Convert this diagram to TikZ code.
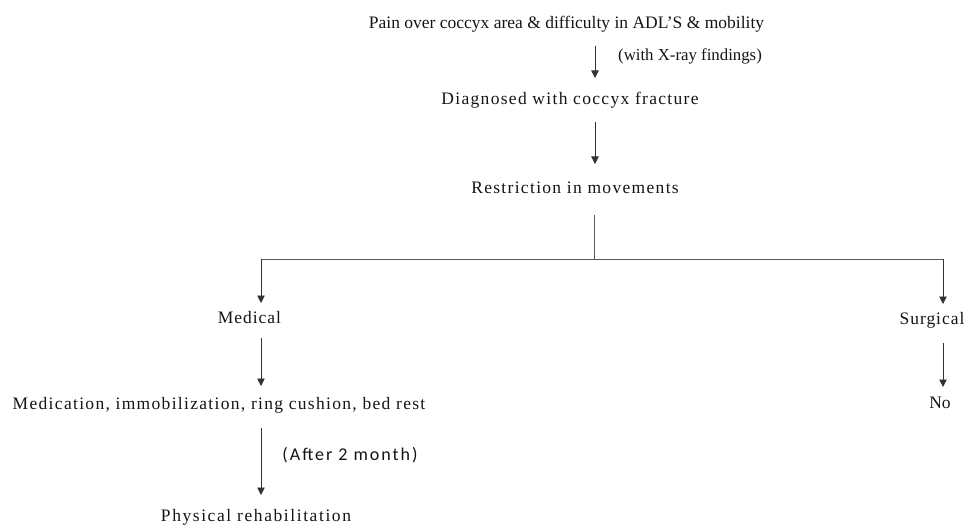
\documentclass[tikz,border=0pt]{standalone}
\usepackage{fontspec}
\setmainfont{Liberation Serif}
\newfontfamily\spacedA[LetterSpace=5.5]{Liberation Serif}
\newfontfamily\spacedB[LetterSpace=7.5]{Liberation Serif}
\newfontfamily\spacedC[LetterSpace=9]{Liberation Serif}
\newfontfamily\lblfont[LetterSpace=11]{Carlito}
\usetikzlibrary{arrows.meta}
\begin{document}
\begin{tikzpicture}[x=1pt,y=-1pt,
  lbl/.style={inner sep=0pt, font=\fontsize{17.5}{20}\selectfont, text=black!92},
  arr/.style={draw=black!80, line width=0.8pt, -{Triangle[length=7.5pt,width=7.5pt]}},
  ln/.style={draw=black!65, line width=0.9pt}]
\useasboundingbox (0,0) rectangle (965,526);
\node[lbl] (pain) at (566.5,24) {Pain over coccyx area \& difficulty in ADL'S \& mobility};
\node[lbl, font=\fontsize{16.8}{20}\selectfont] (xray) at (690,56) {(with X-ray findings)};
\node[lbl, font=\spacedB\fontsize{17.5}{20}\selectfont] (diag) at (570,100) {Diagnosed with coccyx fracture};
\node[lbl, font=\spacedB\fontsize{17.5}{20}\selectfont] (restr) at (575,188) {Restriction in movements};
\node[lbl, font=\spacedA\fontsize{17.5}{20}\selectfont] (medical) at (249.5,318) {Medical};
\node[lbl, font=\spacedA\fontsize{17.5}{20}\selectfont] (surgical) at (932,320) {Surgical};
\node[lbl, font=\spacedB\fontsize{17.5}{20}\selectfont] (medic) at (219,405) {Medication, immobilization, ring cushion, bed rest};
\node[lbl] (no) at (940,403) {No};
\node[inner sep=0pt, font=\lblfont\fontsize{18}{20}\selectfont, text=black!92] (after) at (350,455) {(After 2 month)};
\node[lbl, font=\spacedC\fontsize{17.5}{20}\selectfont] (phys) at (256,517) {Physical rehabilitation};
% connector points
\coordinate (a1s) at (595,46);  \coordinate (a1e) at (595,78);
\coordinate (a2s) at (595,122); \coordinate (a2e) at (595,164);
\coordinate (r1) at (594,215);  \coordinate (r2) at (594,259);
\coordinate (hl) at (261,259);  \coordinate (hr) at (943,259);
\coordinate (ml) at (261,303);  \coordinate (sr) at (943,304);
\coordinate (m1s) at (261,338); \coordinate (m1e) at (261,386);
\coordinate (s1s) at (943,343); \coordinate (s1e) at (943,387);
\coordinate (m2s) at (261,428); \coordinate (m2e) at (261,495);
\draw[arr] (a1s) -- (a1e);
\draw[arr] (a2s) -- (a2e);
\draw[ln] (r1) -- (r2);
\draw[ln] (hl) -- (hr);
\draw[arr] (hl) -- (ml);
\draw[arr] (hr) -- (sr);
\draw[arr] (m1s) -- (m1e);
\draw[arr] (s1s) -- (s1e);
\draw[arr] (m2s) -- (m2e);
\end{tikzpicture}
\end{document}
